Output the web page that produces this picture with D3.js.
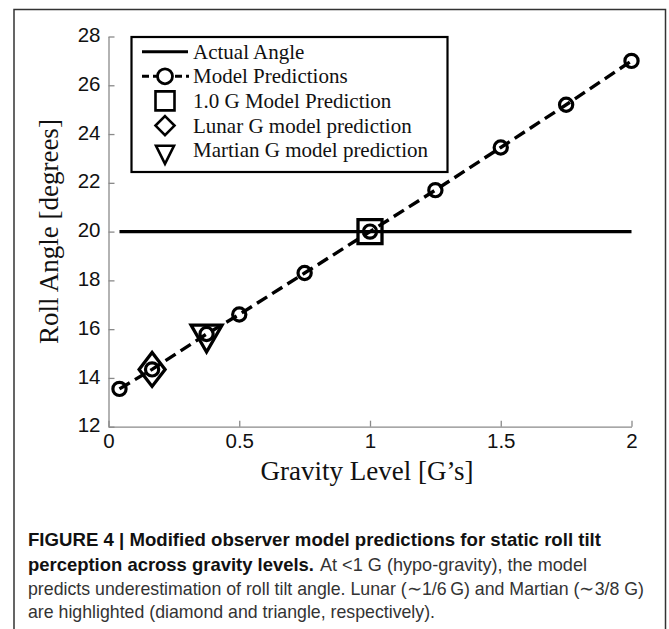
<!DOCTYPE html>
<html><head><meta charset="utf-8">
<script src="https://cdn.jsdelivr.net/npm/d3@7"></script>
<style>html,body{margin:0;padding:0;background:#fff;}svg{display:block;}</style>
</head><body>
<svg id="chart" width="669" height="629"></svg>
<script>
// ---- data ----
const gravity = [0.042, 0.1667, 0.375, 0.5, 0.75, 1.0, 1.25, 1.5, 1.75, 2.0];
const predicted = [13.55, 14.35, 15.8, 16.6, 18.3, 20.0, 21.7, 23.45, 25.2, 27.0];
const actualAngle = 20;
const actualRange = [0.042, 2.0];
const highlights = [
  {name: "1.0 G", g: 1.0, v: 20.0, shape: "square"},
  {name: "Lunar", g: 0.1667, v: 14.35, shape: "diamond"},
  {name: "Martian", g: 0.375, v: 15.8, shape: "triangle"}
];
const xTicks = [0, 0.5, 1, 1.5, 2];
const xTickLabels = ["0", "0.5", "1", "1.5", "2"];
const yTicks = [12, 14, 16, 18, 20, 22, 24, 26, 28];
const legendLabels = ["Actual Angle", "Model Predictions", "1.0 G Model Prediction", "Lunar G model prediction", "Martian G model prediction"];
const xTitle = "Gravity Level [G\u2019s]";
const yTitle = "Roll Angle [degrees]";
const captionLines = [
  [{t: "FIGURE 4 | Modified observer model predictions for static roll tilt", b: true, w: 573}],
  [{t: "perception across gravity levels.", b: true, w: 286}, {t: "At <1 G (hypo-gravity), the model", b: false, w: 267, x: 320}],
  [{t: "predicts underestimation of roll tilt angle. Lunar (\u223C1/6\u2009G) and Martian (\u223C3/8 G)", b: false, w: 616}],
  [{t: "are highlighted (diamond and triangle, respectively).", b: false, w: 407}]
];

const svg = d3.select("#chart");
const x = d3.scaleLinear().domain([0, 2]).range([108.5, 631.5]);
const y = d3.scaleLinear().domain([12, 28]).range([426.7, 36.5]);
const axisColor = "#8a8a8a";
const serif = "'Liberation Serif','Times New Roman',serif";
const sans = "'Liberation Sans',Arial,sans-serif";

// outer border
svg.append("rect").attr("x", 14).attr("y", 9.5).attr("width", 651.5).attr("height", 640)
  .attr("fill", "none").attr("stroke", "#333").attr("stroke-width", 1.5);

// axes
const xAxis = d3.axisBottom(x).tickValues(xTicks).tickFormat((d, i) => xTickLabels[i]).tickSizeInner(-6).tickSizeOuter(0).tickPadding(7);
const gx = svg.append("g").attr("transform", `translate(0,${y(12)})`).call(xAxis);
const yAxis = d3.axisLeft(y).tickValues(yTicks).tickSizeInner(-6).tickSizeOuter(0).tickPadding(8);
const gy = svg.append("g").attr("transform", `translate(${x(0)},0)`).call(yAxis);
[gx, gy].forEach(g => {
  g.select(".domain").attr("stroke", axisColor).attr("stroke-width", 1.3);
  g.selectAll(".tick line").attr("stroke", axisColor).attr("stroke-width", 1.3);
  g.selectAll(".tick text").attr("fill", "#111").style("font-family", sans).style("font-size", "20.5px");
});
gx.selectAll(".tick text").attr("dy", "0.72em");
gy.selectAll(".tick text").attr("dy", "0.25em");

// titles
svg.append("text").attr("x", 367).attr("y", 480).attr("text-anchor", "middle")
  .style("font-family", serif).style("font-size", "27px").attr("fill", "#111").text(xTitle);
svg.append("text").attr("transform", `translate(58,${y(20)}) rotate(-90)`).attr("text-anchor", "middle")
  .style("font-family", serif).style("font-size", "27px").attr("fill", "#111").text(yTitle);

// actual angle line
svg.append("line").attr("x1", x(actualRange[0])).attr("x2", x(actualRange[1]))
  .attr("y1", y(actualAngle)).attr("y2", y(actualAngle)).attr("stroke", "#000").attr("stroke-width", 3.2);

// model predictions
const line = d3.line().x((d, i) => x(gravity[i])).y(d => y(d));
svg.append("path").datum(predicted).attr("d", line).attr("fill", "none")
  .attr("stroke", "#000").attr("stroke-width", 3.4).attr("stroke-dasharray", "12,6");
svg.append("g").selectAll("circle").data(predicted).join("circle")
  .attr("cx", (d, i) => x(gravity[i])).attr("cy", d => y(d)).attr("r", 6.6)
  .attr("fill", "none").attr("stroke", "#000").attr("stroke-width", 3.2);

function shapePath(shape, cx, cy, s) {
  if (shape === "square") { const h = s.w / 2; return `M${cx-h},${cy-h}H${cx+h}V${cy+h}H${cx-h}Z`; }
  if (shape === "diamond") { return `M${cx},${cy-s.h/2}L${cx+s.w/2},${cy}L${cx},${cy+s.h/2}L${cx-s.w/2},${cy}Z`; }
  // down triangle, centroid at (cx,cy)
  return `M${cx-s.w/2},${cy-s.h/3}L${cx+s.w/2},${cy-s.h/3}L${cx},${cy+2*s.h/3}Z`;
}
const bigSizes = {square: {w: 24}, diamond: {w: 26, h: 34}, triangle: {w: 31, h: 27}};
svg.append("g").selectAll("path").data(highlights).join("path")
  .attr("d", d => shapePath(d.shape, x(d.g), y(d.v), bigSizes[d.shape]))
  .attr("fill", "none").attr("stroke", "#000").attr("stroke-width", 3.3).attr("stroke-linejoin", "miter");

// legend
const lg = svg.append("g");
lg.append("rect").attr("x", 131.5).attr("y", 37).attr("width", 316).attr("height", 135)
  .attr("fill", "#fff").attr("stroke", "#000").attr("stroke-width", 2.2);
const rowY = [51.7, 76.3, 100.9, 125.6, 150.3];
const sx = 165;
lg.append("line").attr("x1", 142).attr("x2", 188).attr("y1", rowY[0]).attr("y2", rowY[0]).attr("stroke", "#000").attr("stroke-width", 3);
lg.append("line").attr("x1", 142).attr("x2", 189).attr("y1", rowY[1]).attr("y2", rowY[1]).attr("stroke", "#000").attr("stroke-width", 3).attr("stroke-dasharray", "7,4");
lg.append("circle").attr("cx", sx).attr("cy", rowY[1]).attr("r", 7.5).attr("fill", "#fff").attr("stroke", "#000").attr("stroke-width", 2.8);
const smallSizes = {square: {w: 19}, diamond: {w: 19, h: 19}, triangle: {w: 18, h: 18}};
highlights.forEach((d, i) => {
  const cy = rowY[2 + i] + (d.shape === "triangle" ? 1.5 : 0);
  lg.append("path").attr("d", shapePath(d.shape, sx, cy, smallSizes[d.shape]))
    .attr("fill", "none").attr("stroke", "#000").attr("stroke-width", 2.6);
});
lg.selectAll("text.leg").data(legendLabels).join("text").attr("class", "leg")
  .attr("x", 193).attr("y", (d, i) => rowY[i] + 7)
  .style("font-family", serif).style("font-size", "21px").attr("fill", "#111").text(d => d);

// caption
const capY = [546, 571, 595, 618];
captionLines.forEach((segs, li) => {
  segs.forEach(s => {
    svg.append("text").attr("x", s.x || 28).attr("y", capY[li])
      .style("font-family", sans).style("font-size", "18.5px")
      .style("font-weight", s.b ? "bold" : "normal").attr("fill", s.b ? "#111" : "#333")
      .attr("textLength", s.w).attr("lengthAdjust", "spacingAndGlyphs").text(s.t);
  });
});
</script>
</body></html>
